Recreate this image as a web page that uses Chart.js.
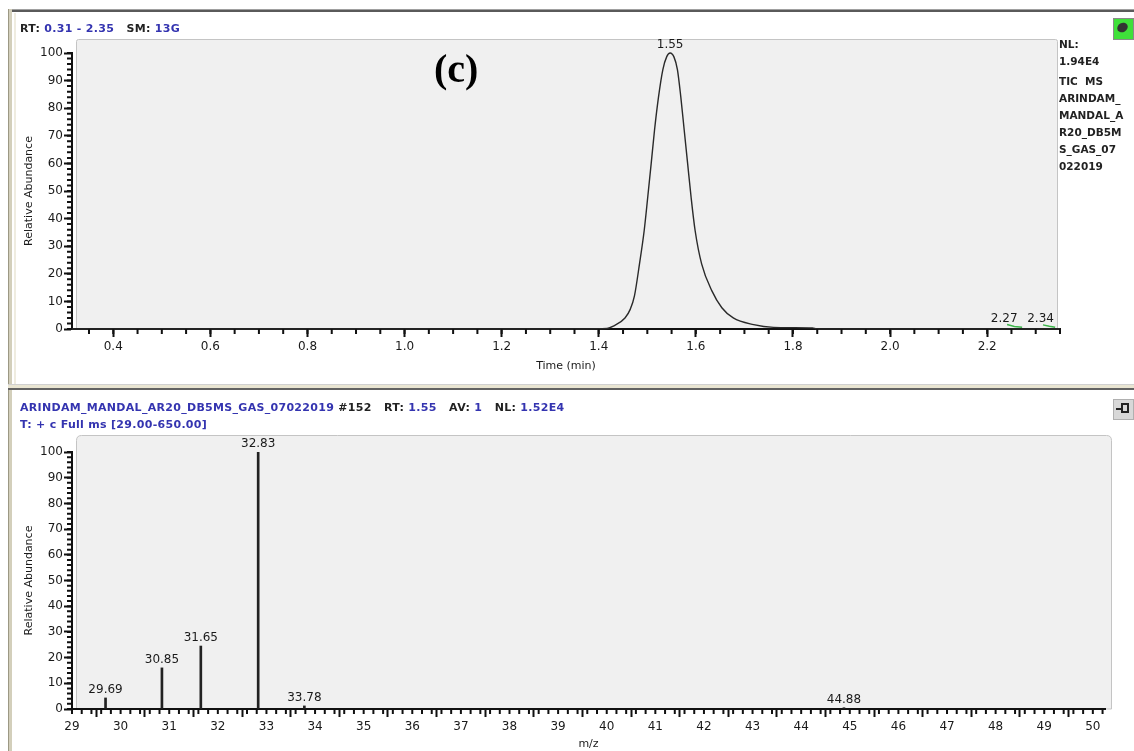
<!DOCTYPE html>
<html>
<head>
<meta charset="utf-8">
<script src="https://cdn.jsdelivr.net/npm/chart.js@4.4.1/dist/chart.umd.min.js"></script>
<style>
  body { margin: 0; background: #fff; font-family: "DejaVu Sans", Arial, sans-serif; }
  #page { position: relative; width: 1134px; height: 751px; overflow: hidden; background: #fff; }
  .bar { position: absolute; }
  .hdr { position: absolute; font-size: 11px; font-weight: bold; letter-spacing: 0.3px; line-height: 13px; white-space: nowrap; color: #222; }
  .b { color: #3434b0; }
  canvas { position: absolute; }
  #nl { position: absolute; left: 1059px; top: 36px; font-size: 10.5px; font-weight: bold; line-height: 17px; color: #222; }
  #tag { position: absolute; left: 434px; top: 45px; font: bold 40px "Liberation Serif", "Times New Roman", serif; color: #000; }
</style>
</head>
<body>
<div id="page">
  <!-- window chrome -->
  <div class="bar" style="left:10px;top:9px;width:1124px;height:1px;background:#a0a0a0"></div>
  <div class="bar" style="left:10px;top:10px;width:1124px;height:2px;background:#5a5a5a"></div>
  <div class="bar" style="left:8px;top:9px;width:4px;height:742px;background:#d3cfbb"></div>
  <div class="bar" style="left:8px;top:9px;width:1px;height:742px;background:#9c9884"></div>
  <div class="bar" style="left:14px;top:13px;width:2px;height:371px;background:#efece0"></div>
  <div class="bar" style="left:8px;top:384px;width:1126px;height:1px;background:#d0d0d0"></div>
  <div class="bar" style="left:8px;top:385px;width:1126px;height:3px;background:#e9e5d2"></div>
  <div class="bar" style="left:8px;top:388px;width:1126px;height:2px;background:#626262"></div>

  <canvas id="tic" width="1122" height="370" style="left:12px;top:13px"></canvas>
  <canvas id="ms" width="1122" height="360" style="left:12px;top:391px"></canvas>

  <div class="hdr" style="left:20px;top:22px">RT: <span class="b">0.31 - 2.35</span>&nbsp;&nbsp; SM: <span class="b">13G</span></div>
  <div id="tag">(c)</div>
  <div id="nl">NL:<br>1.94E4<div style="margin-top:3px">TIC&nbsp; MS<br>ARINDAM_<br>MANDAL_A<br>R20_DB5M<br>S_GAS_07<br>022019</div></div>

  <div class="bar" style="left:1113px;top:18px;width:19px;height:20px;background:#3fe03a;border:1px solid #8a8a8a"></div>
  <div class="bar" style="left:1117px;top:23px;width:11px;height:9px;background:#333;border-radius:50%;transform:rotate(-30deg)"></div>

  <div class="hdr" style="left:20px;top:401px"><span class="b">ARINDAM_MANDAL_AR20_DB5MS_GAS_07022019</span> #152&nbsp;&nbsp; RT: <span class="b">1.55</span>&nbsp;&nbsp; AV: <span class="b">1</span>&nbsp;&nbsp; NL: <span class="b">1.52E4</span></div>
  <div class="hdr b" style="left:20px;top:418px">T: + c Full ms [29.00-650.00]</div>

  <div class="bar" style="left:1113px;top:399px;width:19px;height:19px;background:#d8d8d8;border:1px solid #b0b0b0"></div>
  <div class="bar" style="left:1116px;top:408px;width:5px;height:2px;background:#222"></div>
  <div class="bar" style="left:1121px;top:403px;width:8px;height:10px;border:2px solid #222;box-sizing:border-box"></div>
</div>

<script>
// chromatogram (TIC)
const ticTimes  = [0.315, 1.3, 1.417, 1.43, 1.454, 1.465, 1.4735, 1.4838, 1.4935, 1.501, 1.508, 1.5148, 1.523, 1.532, 1.540, 1.547, 1.555, 1.562, 1.569, 1.576, 1.583, 1.590, 1.5985, 1.612, 1.633, 1.6535, 1.677, 1.719, 1.76, 1.80, 1.84, 1.85, 2.35];
const ticValues = [0, 0, 0.2, 1, 4, 7.2, 12, 23.5, 35.6, 48, 60, 72, 84, 94, 98.7, 100, 98.5, 94, 84, 72, 60, 48, 35.6, 23.5, 13.8, 7.7, 4, 1.6, 0.6, 0.5, 0.4, 0, 0];

// small detected peaks at the end (green traces)
const smallTimes  = [2.241, 2.256, 2.272, 2.29, 2.315, 2.328, 2.34];
const smallValues = [1.6, 0.9, 0.6, null, 1.5, 1.0, 0.6];

const ticLabelTimes  = [1.547, 2.235, 2.31];
const ticLabelValues = [100, 0.6, 0.6];
const ticLabelTexts  = ['1.55', '2.27', '2.34'];

// mass spectrum, scan #152
const mzValues    = [29.69, 30.85, 31.65, 32.83, 33.78, 44.88];
const msAbundance = [4.3, 16, 24.5, 100, 1.2, 0.5];

const FONT = 'DejaVu Sans';
const INK = '#111';

function frame(topGap, rightGap, radius) {
  return {
    id: 'frame',
    beforeDraw(chart) {
      const ctx = chart.ctx, a = chart.chartArea;
      const x0 = a.left + 4.5, y0 = a.top - topGap + 0.5, x1 = a.right + rightGap - 0.5, y1 = a.bottom;
      ctx.save();
      ctx.fillStyle = '#f0f0f0';
      ctx.strokeStyle = '#c4c4c4';
      ctx.lineWidth = 1;
      ctx.beginPath();
      ctx.moveTo(x0, y1);
      ctx.lineTo(x0, y0 + radius);
      ctx.quadraticCurveTo(x0, y0, x0 + radius, y0);
      ctx.lineTo(x1 - radius, y0);
      ctx.quadraticCurveTo(x1, y0, x1, y0 + radius);
      ctx.lineTo(x1, y1);
      ctx.closePath();
      ctx.fill();
      ctx.stroke();
      ctx.restore();
    }
  };
}

function minorTicks(xStep, yStep) {
  return {
    id: 'minorTicks',
    afterDraw(chart) {
      const ctx = chart.ctx, xs = chart.scales.x, ys = chart.scales.y;
      ctx.save();
      ctx.strokeStyle = INK;
      ctx.lineWidth = 2;
      ctx.beginPath();
      for (let i = Math.ceil(xs.min / xStep - 1e-6); i <= Math.floor(xs.max / xStep + 1e-6); i++) {
        const px = xs.getPixelForValue(i * xStep);
        ctx.moveTo(px, xs.top);
        ctx.lineTo(px, xs.top + 5);
      }
      for (let i = Math.ceil(ys.min / yStep); i <= Math.floor(ys.max / yStep + 1e-6); i++) {
        const py = ys.getPixelForValue(i * yStep);
        ctx.moveTo(ys.right, py);
        ctx.lineTo(ys.right - 5, py);
      }
      ctx.stroke();
      ctx.restore();
    }
  };
}

function axisStyle(extra) {
  return Object.assign({
    grid: { drawOnChartArea: false, tickLength: 8, tickWidth: 2, tickColor: INK },
    border: { color: INK, width: 2 }
  }, extra);
}

const tickFont = { family: FONT, size: 12 };
const titleFont = { family: FONT, size: 11 };

new Chart(document.getElementById('tic'), {
  type: 'line',
  data: {
    datasets: [{
      data: ticTimes.map((t, i) => ({ x: t, y: ticValues[i] })),
      borderColor: '#2a2a2a',
      borderWidth: 1.4,
      pointRadius: 0,
      cubicInterpolationMode: 'monotone',
      clip: 6
    }, {
      data: smallTimes.map((t, i) => ({ x: t, y: smallValues[i] })),
      borderColor: '#3cb54a',
      borderWidth: 1.5,
      pointRadius: 0,
      spanGaps: false,
      clip: 6
    }]
  },
  options: {
    responsive: false,
    animation: false,
    events: [],
    layout: { padding: { left: 0, top: 40, right: 74, bottom: 0 } },
    plugins: { legend: { display: false }, tooltip: { enabled: false } },
    scales: {
      x: axisStyle({
        type: 'linear', min: 0.315, max: 2.35,
        afterFit: s => { s.height = 54; },
        ticks: { stepSize: 0.2, includeBounds: false, autoSkip: false, maxRotation: 0, padding: 3, color: '#1a1a1a', font: tickFont, callback: v => v.toFixed(1) },
        title: { display: true, text: 'Time (min)', color: '#1a1a1a', font: titleFont, padding: { top: 0, bottom: 10 } }
      }),
      y: axisStyle({
        min: 0, max: 100,
        afterFit: s => { s.width = 60; },
        ticks: { stepSize: 10, includeBounds: false, padding: 1, color: '#1a1a1a', font: tickFont },
        title: { display: true, text: 'Relative Abundance', color: '#1a1a1a', font: titleFont, padding: { top: 11, bottom: 0 } }
      })
    }
  },
  plugins: [frame(14, -2, 2), minorTicks(0.05, 2), {
    id: 'peakLabels',
    afterDatasetsDraw(chart) {
      const ctx = chart.ctx, xs = chart.scales.x, ys = chart.scales.y;
      ctx.save();
      ctx.font = '12px ' + FONT;
      ctx.fillStyle = '#1a1a1a';
      ctx.textAlign = 'center';
      ctx.textBaseline = 'alphabetic';
      ticLabelTimes.forEach((t, i) => {
        ctx.fillText(ticLabelTexts[i], xs.getPixelForValue(t), ys.getPixelForValue(ticLabelValues[i]) - 5);
      });
      ctx.restore();
    }
  }]
});

new Chart(document.getElementById('ms'), {
  type: 'bar',
  data: {
    datasets: [{
      data: mzValues.map((m, i) => ({ x: m, y: msAbundance[i] })),
      backgroundColor: '#222',
      barThickness: 2,
      borderWidth: 0
    }]
  },
  options: {
    responsive: false,
    animation: false,
    events: [],
    layout: { padding: { left: 0, top: 61, right: 29, bottom: 0 } },
    plugins: { legend: { display: false }, tooltip: { enabled: false } },
    scales: {
      x: axisStyle({
        type: 'linear', min: 29, max: 50.25, offset: false,
        afterFit: s => { s.height = 42; },
        ticks: { stepSize: 1, includeBounds: false, autoSkip: false, maxRotation: 0, padding: 3, color: '#1a1a1a', font: tickFont },
        title: { display: true, text: 'm/z', color: '#1a1a1a', font: titleFont, padding: { top: 0, bottom: 0 } }
      }),
      y: axisStyle({
        min: 0, max: 100,
        afterFit: s => { s.width = 60; },
        ticks: { stepSize: 10, includeBounds: false, padding: 1, color: '#1a1a1a', font: tickFont },
        title: { display: true, text: 'Relative Abundance', color: '#1a1a1a', font: titleFont, padding: { top: 11, bottom: 0 } }
      })
    }
  },
  plugins: [frame(17, 7, 5), minorTicks(0.2, 2), {
    id: 'stickLabels',
    afterDatasetsDraw(chart) {
      const ctx = chart.ctx, meta = chart.getDatasetMeta(0);
      ctx.save();
      ctx.font = '12px ' + FONT;
      ctx.fillStyle = '#1a1a1a';
      ctx.textAlign = 'center';
      ctx.textBaseline = 'alphabetic';
      meta.data.forEach((bar, i) => {
        ctx.fillText(mzValues[i].toFixed(2), bar.x, bar.y - 5);
      });
      ctx.restore();
    }
  }]
});
</script>
</body>
</html>
